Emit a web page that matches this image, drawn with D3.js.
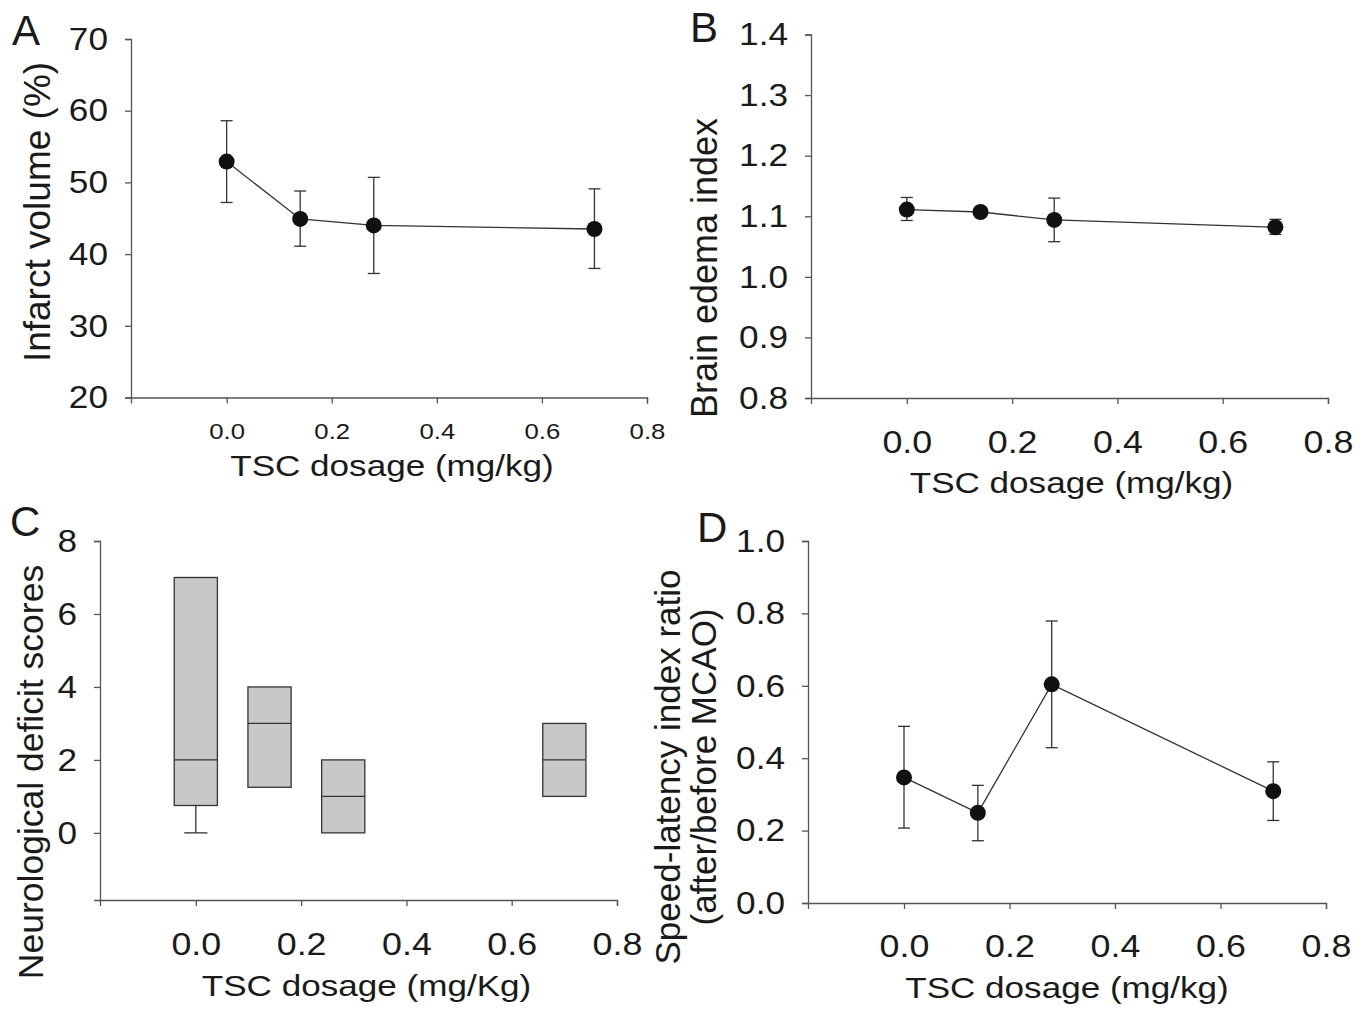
<!DOCTYPE html>
<html>
<head>
<meta charset="utf-8">
<script src="https://cdn.jsdelivr.net/npm/d3@7"></script>
<style>
  body { margin: 0; background: #fff; }
  svg text { font-family: "Liberation Sans", Arial, Helvetica, sans-serif; fill: #1a1a1a; }
</style>
</head>
<body>
<svg width="1371" height="1009"></svg>
<script>
// doses (mg/kg) shared by all panels
const doses = [0, 0.14, 0.28, 0.7];
const xTicks = [0, 0.2, 0.4, 0.6, 0.8];

// panel A - infarct volume (%)
const infarctMean = [52.9, 44.9, 44.0, 43.5];
const infarctLow = [47.2, 41.1, 37.3, 38.0];
const infarctHigh = [58.6, 48.8, 50.7, 49.1];
const infarctTicks = [20, 30, 40, 50, 60, 70];

// panel B - brain edema index
const edemaMean = [1.111, 1.107, 1.094, 1.082];
const edemaLow = [1.093, 1.099, 1.058, 1.070];
const edemaHigh = [1.131, 1.114, 1.130, 1.095];
const edemaTicks = [0.8, 0.9, 1.0, 1.1, 1.2, 1.3, 1.4];

// panel C - neurological deficit scores (box plot)
const scoreMin = [0, 1.25, 0, 1];
const scoreQ1 = [0.75, 1.25, 0, 1];
const scoreMedian = [2, 3, 1, 2];
const scoreQ3 = [7, 4, 2, 3];
const scoreTicks = [0, 2, 4, 6, 8];

// panel D - speed-latency index ratio
const speedMean = [0.347, 0.249, 0.604, 0.309];
const speedLow = [0.207, 0.172, 0.429, 0.228];
const speedHigh = [0.488, 0.325, 0.779, 0.390];
const speedTicks = [0, 0.2, 0.4, 0.6, 0.8, 1.0];

let svg = d3.select('svg');
const axisColor = '#555';

// text in the figure is a bit wider than Arial, stretch it horizontally
function stretch(sel, s) {
  sel.each(function () {
    let t = d3.select(this);
    let x = +t.attr('x') || 0, y = +t.attr('y') || 0;
    t.attr('x', 0).attr('y', 0).attr('transform', `translate(${x},${y}) scale(${s},1)`);
  });
}

function panel(opt) {
  let g = svg.append('g');
  let x = d3.scaleLinear().domain([-0.182, 0.8]).range([opt.left, opt.right]);
  let y = d3.scaleLinear().domain(opt.yDomain).range([opt.bottom, opt.top]);

  // axes
  let ya = g.append('g').attr('transform', `translate(${opt.left},0)`)
    .call(d3.axisLeft(y).tickValues(opt.yTicks).tickFormat(opt.yFmt).tickSize(6).tickPadding(17));
  let xa = g.append('g').attr('transform', `translate(0,${opt.bottom})`)
    .call(d3.axisBottom(x).tickValues(xTicks).tickFormat(d3.format('.1f')).tickSize(6).tickPadding(opt.xPad));
  [ya, xa].forEach(a => {
    a.select('.domain').attr('stroke', axisColor).attr('stroke-width', 1.3);
    a.selectAll('.tick line').attr('stroke', axisColor).attr('stroke-width', 1.3);
  });
  ya.selectAll('.tick text').style('font-size', '32px').call(stretch, 1.1);
  xa.selectAll('.tick text').style('font-size', opt.xFont + 'px').call(stretch, 1.12);

  // titles
  g.append('text').attr('x', (opt.left + opt.right) / 2 + opt.xTitleDx).attr('y', opt.xTitleY)
    .attr('text-anchor', 'middle').style('font-size', '30px').text(opt.xTitle)
    .call(stretch, 1.17);
  opt.yTitle.forEach((t, i) => {
    g.append('text')
      .attr('transform', `translate(${opt.yTitleX[i]},${opt.yTitleY}) rotate(-90)`)
      .attr('text-anchor', 'middle')
      .style('font-size', opt.yTitleFont + 'px').text(t);
  });
  g.append('text').attr('x', opt.letterX).attr('y', opt.letterY)
    .style('font-size', '42px').text(opt.letter);
  return {g, x, y};
}

function lineWithErrors(p, mean, low, high) {
  let line = d3.line().x((d, i) => p.x(doses[i])).y(d => p.y(d));
  p.g.append('path').datum(mean).attr('d', line)
    .attr('fill', 'none').attr('stroke', '#333').attr('stroke-width', 1.3);
  let eb = p.g.append('g').selectAll('g').data(doses).join('g').attr('stroke', '#333').attr('stroke-width', 1.3);
  eb.append('line').attr('x1', d => p.x(d)).attr('x2', d => p.x(d))
    .attr('y1', (d, i) => p.y(low[i])).attr('y2', (d, i) => p.y(high[i]));
  eb.append('line').attr('x1', d => p.x(d) - 6).attr('x2', d => p.x(d) + 6)
    .attr('y1', (d, i) => p.y(low[i])).attr('y2', (d, i) => p.y(low[i]));
  eb.append('line').attr('x1', d => p.x(d) - 6).attr('x2', d => p.x(d) + 6)
    .attr('y1', (d, i) => p.y(high[i])).attr('y2', (d, i) => p.y(high[i]));
  p.g.append('g').selectAll('circle').data(mean).join('circle')
    .attr('cx', (d, i) => p.x(doses[i])).attr('cy', d => p.y(d)).attr('r', 8).attr('fill', '#111');
}

// A
let pA = panel({left: 131, right: 647, top: 39, bottom: 397.5, yDomain: [20, 70], yTicks: infarctTicks,
  yFmt: d3.format('d'), xFont: 23, xPad: 19, xTitle: 'TSC dosage (mg/kg)', xTitleY: 476, xTitleDx: 3,
  yTitle: ['Infarct volume (%)'], yTitleX: [50], yTitleY: 212, yTitleFont: 37,
  letter: 'A', letterX: 12, letterY: 45});
lineWithErrors(pA, infarctMean, infarctLow, infarctHigh);

// B
let pB = panel({left: 811, right: 1328, top: 34.5, bottom: 398, yDomain: [0.8, 1.4], yTicks: edemaTicks,
  yFmt: d3.format('.1f'), xFont: 32, xPad: 26, xTitle: 'TSC dosage (mg/kg)', xTitleY: 493, xTitleDx: 2,
  yTitle: ['Brain edema index'], yTitleX: [717], yTitleY: 268, yTitleFont: 36,
  letter: 'B', letterX: 690, letterY: 42});
lineWithErrors(pB, edemaMean, edemaLow, edemaHigh);

// C
let pC = panel({left: 100, right: 617, top: 541, bottom: 900, yDomain: [-1.84, 8], yTicks: scoreTicks,
  yFmt: d3.format('d'), xFont: 32, xPad: 26, xTitle: 'TSC dosage (mg/Kg)', xTitleY: 996, xTitleDx: 8,
  yTitle: ['Neurological deficit scores'], yTitleX: [43], yTitleY: 772, yTitleFont: 35.5,
  letter: 'C', letterX: 10, letterY: 536});
let boxW = pC.x(0.041) - pC.x(0);
let capW = pC.x(0.022) - pC.x(0);
let bx = pC.g.append('g').selectAll('g').data(doses).join('g').attr('stroke', '#333').attr('stroke-width', 1.3);
bx.append('line').attr('x1', d => pC.x(d)).attr('x2', d => pC.x(d))
  .attr('y1', (d, i) => pC.y(scoreMin[i])).attr('y2', (d, i) => pC.y(scoreQ1[i]));
bx.filter((d, i) => scoreMin[i] < scoreQ1[i]).append('line')
  .attr('x1', d => pC.x(d) - capW).attr('x2', d => pC.x(d) + capW)
  .attr('y1', (d, i) => pC.y(scoreMin[i])).attr('y2', (d, i) => pC.y(scoreMin[i]));
bx.append('rect').attr('x', d => pC.x(d) - boxW).attr('width', 2 * boxW)
  .attr('y', (d, i) => pC.y(scoreQ3[i])).attr('height', (d, i) => pC.y(scoreQ1[i]) - pC.y(scoreQ3[i]))
  .attr('fill', '#c8c8c8');
bx.append('line').attr('x1', d => pC.x(d) - boxW).attr('x2', d => pC.x(d) + boxW)
  .attr('y1', (d, i) => pC.y(scoreMedian[i])).attr('y2', (d, i) => pC.y(scoreMedian[i]));

// D
let pD = panel({left: 808, right: 1326, top: 541, bottom: 903, yDomain: [0, 1], yTicks: speedTicks,
  yFmt: d3.format('.1f'), xFont: 32, xPad: 25, xTitle: 'TSC dosage (mg/kg)', xTitleY: 998, xTitleDx: 0,
  yTitle: ['Speed-latency index ratio', '(after/before MCAO)'], yTitleX: [680, 716], yTitleY: 767, yTitleFont: 35,
  letter: 'D', letterX: 697, letterY: 542});
lineWithErrors(pD, speedMean, speedLow, speedHigh);
</script>
</body>
</html>
